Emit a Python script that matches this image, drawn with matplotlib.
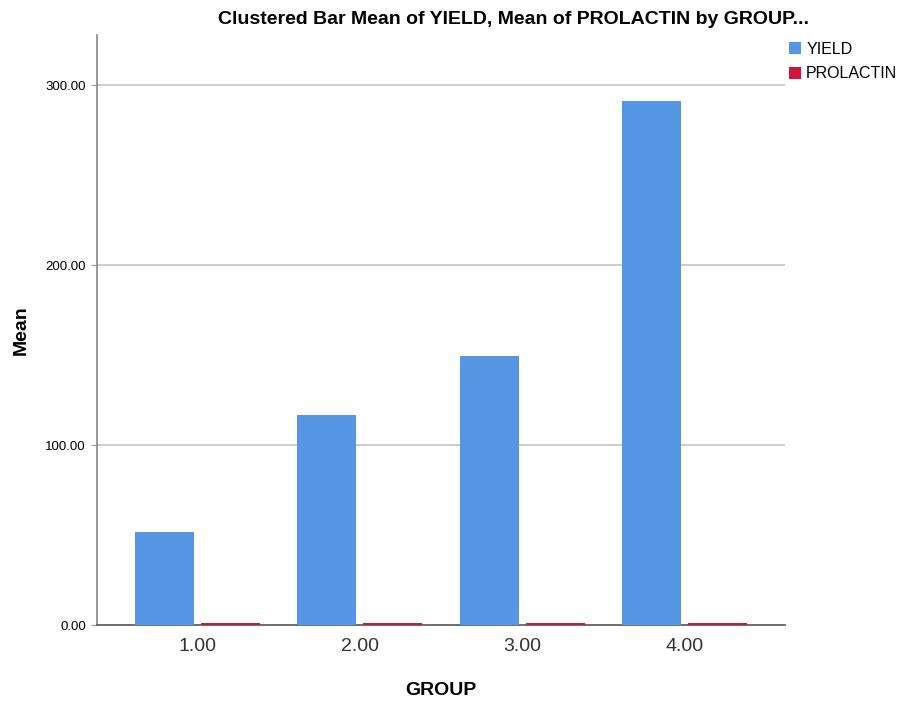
import matplotlib
matplotlib.use('Agg')
import matplotlib.pyplot as plt
import numpy as np

groups = ['1.00', '2.00', '3.00', '4.00']
yield_means = [51.5, 116.5, 149.5, 291.5]
prolactin_means = [0.9, 0.9, 1.0, 1.0]
yticks = [0, 100, 200, 300]
ytick_labels = ['0.00', '100.00', '200.00', '300.00']

plt.rcParams['font.family'] = ['Liberation Sans', 'DejaVu Sans']

fig = plt.figure(figsize=(8.97, 7.04), dpi=100)
ax = fig.add_axes([0.108, 0.1122, 0.767, 0.838])

x = np.arange(1, len(groups) + 1)
w = 0.363
gap = 0.043
ax.bar(x - gap / 2 - w / 2, yield_means, w, color='#5597e4', label='YIELD', zorder=3)
ax.bar(x + gap / 2 + w / 2, prolactin_means, w, color='#d2143c', label='PROLACTIN', zorder=3)

ax.set_xlim(0.382, 4.615)
ax.set_ylim(0, 328)
ax.set_yticks(yticks)
ax.set_yticklabels(ytick_labels, fontsize=9.5)
ax.set_xticks(x)
ax.set_xticklabels(groups, fontsize=14, color='#333333')
ax.tick_params(axis='x', length=0, pad=9)
ax.tick_params(axis='y', length=4, color='#999999', pad=4)
for t in yticks[1:]:
    ax.axhline(t, color='#c8c8c8', lw=1.3, zorder=1)
ax.spines['top'].set_visible(False)
ax.spines['right'].set_visible(False)
ax.spines['left'].set_color('#888888')
ax.spines['bottom'].set_color('#555555')
ax.spines['left'].set_linewidth(1.2)
ax.spines['bottom'].set_linewidth(1.2)

ax.set_xlabel('GROUP', fontsize=14, fontweight='bold', labelpad=20)
ax.set_ylabel('Mean', fontsize=14, fontweight='bold', labelpad=11)

fig.text(0.572, 0.972, 'Clustered Bar Mean of YIELD, Mean of PROLACTIN by GROUP...',
         ha='center', va='center', fontsize=14, fontweight='bold')

leg = fig.legend(loc='upper left', bbox_to_anchor=(0.872, 0.95), frameon=False,
                 fontsize=11.5, handlelength=0.8, handleheight=0.8, handletextpad=0.3,
                 labelspacing=0.6, borderaxespad=0)

fig.savefig('out.png', dpi=100)
